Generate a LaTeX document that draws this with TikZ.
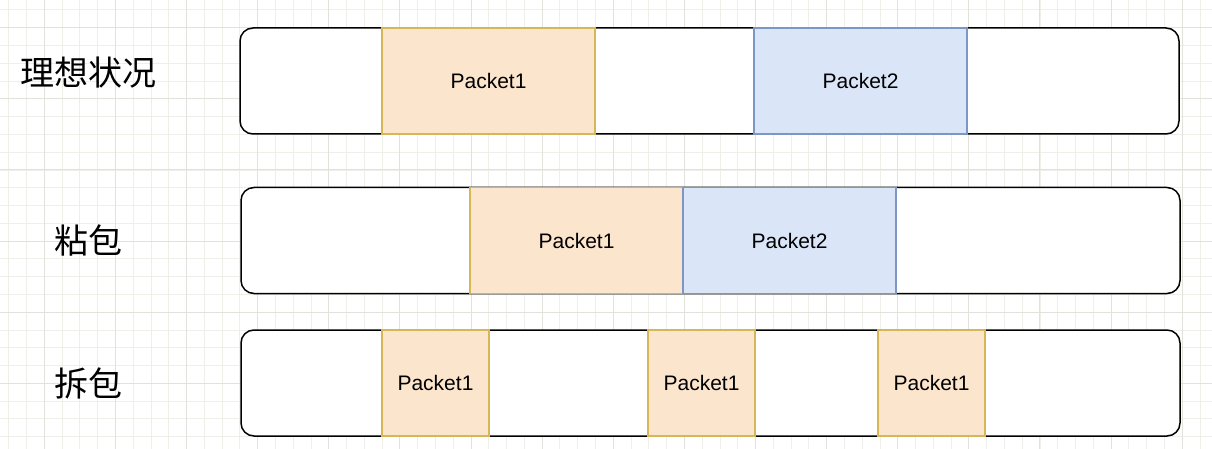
\documentclass[tikz,border=0pt]{standalone}
\usepackage{fontspec}
\setmainfont{Liberation Sans}
\newfontfamily\cjk{Noto Sans CJK SC}
\usepackage{xcolor}
\usetikzlibrary{positioning}

\definecolor{gridminor}{HTML}{EFEFEA}
\definecolor{gridmajor}{HTML}{E2E2DC}
\definecolor{pkorange}{HTML}{FBE5CD}
\definecolor{pkorangeline}{HTML}{D6B656}
\definecolor{pkblue}{HTML}{DAE6F8}
\definecolor{pkblueline}{HTML}{7D97C4}

\tikzset{
    stream/.style={draw=black, line width=1.5pt, rounded corners=13pt, fill=white,
        minimum height=106pt, minimum width=939pt, inner sep=0pt},
    pkone/.style={draw=pkorangeline, line width=1.2pt, fill=pkorange,
        minimum height=106pt, inner sep=0pt, font=\fontsize{21}{25}\selectfont},
    pktwo/.style={draw=pkblueline, line width=1.2pt, fill=pkblue,
        minimum height=106pt, inner sep=0pt, font=\fontsize{21}{25}\selectfont},
    rowlabel/.style={font=\cjk\fontsize{34}{40}\selectfont, inner sep=0pt}
}

\begin{document}
\begin{tikzpicture}[x=1pt, y=-1pt]
    \useasboundingbox (0, 0) rectangle (1212, 449);
    \fill[white] (0, 0) rectangle (1212, 449);

    % grid
    \foreach \i in {0,...,68}
        \draw[gridminor, line width=0.8pt] ({8.7+17.78*\i}, 0) -- ({8.7+17.78*\i}, 449);
    \foreach \j in {0,...,25}
        \draw[gridminor, line width=0.8pt] (0, {9.9+17.78*\j}) -- (1212, {9.9+17.78*\j});
    \foreach \i in {0,...,17}
        \draw[gridmajor, line width=1pt] ({44.3+71.12*\i}, 0) -- ({44.3+71.12*\i}, 449);
    \foreach \j in {0,...,6}
        \draw[gridmajor, line width=1pt] (0, {27.7+71.12*\j}) -- (1212, {27.7+71.12*\j});

    % ideal case
    \node[rowlabel] (ideal) at (88.5, 73) {理想状况};
    \node[stream] (idealrow) at (709.5, 81) {};
    \node[pkone, minimum width=213pt] (idealp1) at (488.5, 81) {Packet1};
    \node[pktwo, minimum width=213pt] (idealp2) at (860.5, 81) {Packet2};

    % sticky packets
    \node[rowlabel] (sticky) at (88, 240) {粘包};
    \node[stream] (stickyrow) at (710.5, 240.5) {};
    \node[pkone, minimum width=213pt] (stickyp1) at (576.5, 240.5) {Packet1};
    \node[pktwo, minimum width=213pt] (stickyp2) at (789.5, 240.5) {Packet2};

    % split packets
    \node[rowlabel] (split) at (88, 383) {拆包};
    \node[stream] (splitrow) at (710.5, 383) {};
    \node[pkone, minimum width=107pt] (splitp1) at (435.5, 383) {Packet1};
    \node[pkone, minimum width=107pt] (splitp2) at (701.5, 383) {Packet1};
    \node[pkone, minimum width=107pt] (splitp3) at (931.5, 383) {Packet1};
\end{tikzpicture}
\end{document}
